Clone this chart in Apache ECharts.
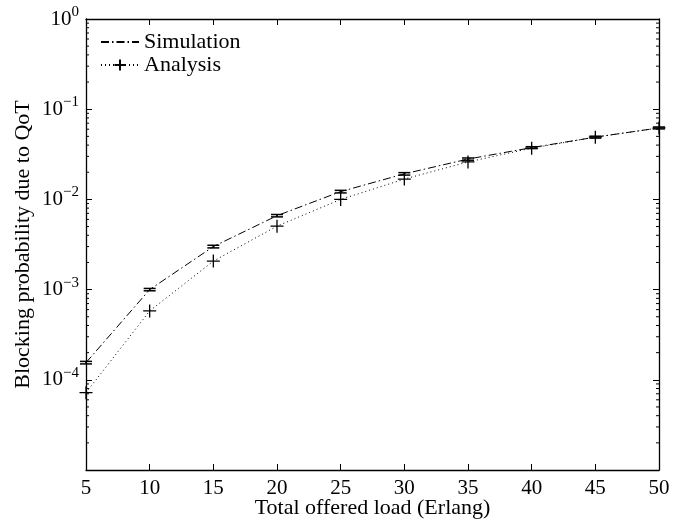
<!DOCTYPE html>
<html>
<head>
<meta charset="utf-8">
<script src="https://cdn.jsdelivr.net/npm/echarts@6/dist/echarts.min.js"></script>
<style>
  html, body { margin: 0; padding: 0; background: #fff; }
  #chart { width: 697px; height: 523px; }
</style>
</head>
<body>
<div id="chart"></div>
<script>
// offered load (Erlang)
const loads = [5, 10, 15, 20, 25, 30, 35, 40, 45, 50];
// blocking probability, simulation (with error bars) and analysis
const simulation = [1.55e-4, 1.0e-3, 3.0e-3, 6.6e-3, 0.0122, 0.0192, 0.028, 0.0375, 0.049, 0.062];
const simLow = [1.5e-4, 0.97e-3, 2.9e-3, 6.4e-3, 0.0118, 0.0186, 0.0272, 0.0366, 0.0478, 0.0605];
const simHigh = [1.6e-4, 1.03e-3, 3.1e-3, 6.8e-3, 0.0126, 0.0198, 0.0288, 0.0384, 0.0502, 0.0635];
const analysis = [7.2e-5, 5.8e-4, 2.07e-3, 5.05e-3, 0.0100, 0.0168, 0.026, 0.037, 0.049, 0.062];
// minor tick positions of the log axis
const minorTicks = [];
[1e-5, 1e-4, 1e-3, 1e-2, 1e-1].forEach(function (d) {
  for (let m = 2; m <= 9; m++) minorTicks.push([m * d]);
});

const FONT = 'Liberation Serif';

const chart = echarts.init(document.getElementById('chart'));

function expLabel(v) {
  const e = Math.round(Math.log10(v));
  return '{b|10}{s|' + (e < 0 ? '\u2212' + (-e) : e) + '}';
}

const option = {
  animation: false,
  backgroundColor: '#fff',
  grid: { left: 86, right: 38, top: 19, bottom: 53, outerBoundsMode: 'none', containLabel: false },
  legend: {
    left: 100, top: 31, orient: 'vertical', itemGap: 1, itemWidth: 38, itemHeight: 14,
    padding: 0,
    textStyle: { fontFamily: FONT, fontSize: 22, lineHeight: 22, color: '#000' },
    data: [{ name: 'Simulation', itemStyle: { opacity: 0 } }, { name: 'Analysis' }]
  },
  xAxis: [{
    type: 'value', min: 5, max: 50, interval: 5,
    name: 'Total offered load (Erlang)', nameLocation: 'middle', nameGap: 27,
    nameMoveOverlap: false,
    nameTextStyle: { fontFamily: FONT, fontSize: 22, color: '#000' },
    axisLine: { lineStyle: { color: '#000', width: 1.3 } },
    axisTick: { inside: true, length: 6, lineStyle: { color: '#000' } },
    axisLabel: { fontFamily: FONT, fontSize: 21, color: '#000', margin: 8 },
    splitLine: { show: false }
  }, {
    type: 'value', min: 5, max: 50, interval: 5, position: 'top',
    axisLine: { lineStyle: { color: '#000', width: 1.3 } },
    axisTick: { inside: true, length: 6, lineStyle: { color: '#000' } },
    axisLabel: { show: false },
    splitLine: { show: false }
  }],
  yAxis: [{
    type: 'log', logBase: 10, min: 1e-5, max: 1,
    name: 'Blocking probability due to QoT', nameLocation: 'middle', nameGap: 52,
    nameMoveOverlap: false,
    nameTextStyle: { fontFamily: FONT, fontSize: 22, color: '#000' },
    axisLine: { lineStyle: { color: '#000', width: 1.3 } },
    axisTick: { inside: true, length: 6, lineStyle: { color: '#000' } },
    axisLabel: {
      showMinLabel: false, margin: 7, formatter: expLabel,
      rich: {
        b: { fontFamily: FONT, fontSize: 21, color: '#000' },
        s: { fontFamily: FONT, fontSize: 15, color: '#000', padding: [0, 0, 14, 0] }
      }
    },
    splitLine: { show: false }
  }, {
    type: 'log', logBase: 10, min: 1e-5, max: 1, position: 'right',
    axisLine: { lineStyle: { color: '#000', width: 1.3 } },
    axisTick: { inside: true, length: 6, lineStyle: { color: '#000' } },
    axisLabel: { show: false },
    splitLine: { show: false }
  }],
  series: [{
    name: 'Simulation', type: 'line',
    data: loads.map((x, i) => [x, simulation[i]]),
    symbol: 'none',
    lineStyle: { color: '#000', width: 1, type: [8, 3, 1.5, 3] },
    itemStyle: { color: '#000' }
  }, {
    name: 'Analysis', type: 'line',
    data: loads.map((x, i) => [x, analysis[i]]),
    symbol: 'path://M0,6L12,6M6,0L6,12', symbolSize: 13,
    lineStyle: { color: '#000', width: 1, type: [1, 3] },
    itemStyle: { color: 'none', borderColor: '#000', borderWidth: 1.3 }
  }, {
    type: 'custom', name: 'err', silent: true,
    data: loads.map((x, i) => [x, simLow[i], simHigh[i]]),
    renderItem: function (params, api) {
      const lo = api.coord([api.value(0), api.value(1)]);
      const hi = api.coord([api.value(0), api.value(2)]);
      const w = 6;
      const st = { stroke: '#000', lineWidth: 1.5 };
      return {
        type: 'group', children: [
          { type: 'line', shape: { x1: lo[0], y1: lo[1], x2: hi[0], y2: hi[1] }, style: st },
          { type: 'line', shape: { x1: lo[0] - w, y1: lo[1], x2: lo[0] + w, y2: lo[1] }, style: st },
          { type: 'line', shape: { x1: hi[0] - w, y1: hi[1], x2: hi[0] + w, y2: hi[1] }, style: st }
        ]
      };
    }
  }, {
    type: 'custom', name: 'minor', silent: true,
    data: minorTicks,
    encode: { y: 0 },
    renderItem: function (params, api) {
      const y = api.coord([5, api.value(0)])[1];
      const xl = api.coord([5, 1])[0];
      const xr = api.coord([50, 1])[0];
      const st = { stroke: '#000', lineWidth: 1 };
      return {
        type: 'group', children: [
          { type: 'line', shape: { x1: xl, y1: y, x2: xl + 3, y2: y }, style: st },
          { type: 'line', shape: { x1: xr - 3, y1: y, x2: xr, y2: y }, style: st }
        ]
      };
    }
  }]
};

chart.setOption(option);
</script>
</body>
</html>
